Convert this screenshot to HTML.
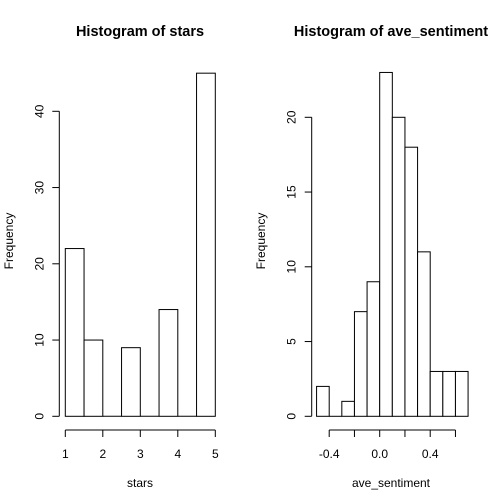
<!DOCTYPE html>
<html><head><meta charset="utf-8"><style>
body{margin:0;background:#fff}
svg{display:block;font-family:"Liberation Sans",Arial,sans-serif}
</style></head><body>
<svg id="c" width="504" height="504" viewBox="0 0 504 504"></svg>
<script>
const starsBreaks=[1,1.5,2,2.5,3,3.5,4,4.5,5];
const starsCounts=[22,10,0,9,0,14,0,45];
const starsXTicks=[1,2,3,4,5];
const starsYTicks=[0,10,20,30,40];
const sentBreaks=[-0.5,-0.4,-0.3,-0.2,-0.1,0,0.1,0.2,0.3,0.4,0.5,0.6,0.7];
const sentCounts=[2,0,1,7,9,23,20,18,11,3,3,3];
const sentXTicks=[-0.4,-0.2,0,0.2,0.4,0.6];
const sentXLabels=["-0.4","","0.0","","0.4",""];
const sentYTicks=[0,5,10,15,20];
const NS="http://www.w3.org/2000/svg";
const svg=document.getElementById('c');
function mk(t,a,p){const e=document.createElementNS(NS,t);for(const k in a)e.setAttribute(k,a[k]);(p||svg).appendChild(e);return e;}
function panel(o){
  const g=mk('g',{});
  
  
  const sx=v=>o.x0+(v-o.xv0)*o.xs, sy=v=>o.y0-v*o.ys;
  for(let i=0;i<o.counts.length;i++){
    const c=o.counts[i];
    let r;
    if(c<=0){
      r=mk('line',{x1:sx(o.breaks[i]),x2:sx(o.breaks[i+1]),y1:sy(0),y2:sy(0),stroke:'#000','stroke-width':1},g);
    } else {
      r=mk('rect',{x:sx(o.breaks[i]),y:sy(c),width:sx(o.breaks[i+1])-sx(o.breaks[i]),height:sy(0)-sy(c),fill:'#fff',stroke:'#000','stroke-width':1},g);
    }
    
    
  }
  const xa=mk('g',{},g);
  
  
  const xt=o.xticks;
  mk('line',{x1:sx(xt[0]),x2:sx(xt[xt.length-1]),y1:430,y2:430,stroke:'#000'},xa);
  xt.forEach((v,i)=>{
    mk('line',{x1:sx(v),x2:sx(v),y1:430,y2:437,stroke:'#000'},xa);
    const lab=o.xlabels?o.xlabels[i]:String(v);
    if(lab){const t=mk('text',{x:sx(v),y:458,'text-anchor':'middle','font-size':12},xa);t.textContent=lab;}
  });
  const ya=mk('g',{},g);
  
  
  const yt=o.yticks;
  mk('line',{x1:o.yax,x2:o.yax,y1:sy(yt[0]),y2:sy(yt[yt.length-1]),stroke:'#000'},ya);
  yt.forEach(v=>{
    mk('line',{x1:o.yax,x2:o.yax-7,y1:sy(v),y2:sy(v),stroke:'#000'},ya);
    const t=mk('text',{x:o.yax-16,y:sy(v),'text-anchor':'middle','font-size':12,transform:`rotate(-90 ${o.yax-16} ${sy(v)})`},ya);t.textContent=v;
  });
  const tt=mk('text',{x:o.cx,y:36,'text-anchor':'middle','font-size':14.5,'font-weight':'bold'},g);tt.textContent=o.title;
  
  
  const xl=mk('text',{x:o.cx,y:487,'text-anchor':'middle','font-size':12},g);xl.textContent=o.xlab;
  
  
  const yl=mk('text',{x:o.ylx,y:241,'text-anchor':'middle','font-size':12,transform:`rotate(-90 ${o.ylx} 241)`},g);yl.textContent='Frequency';
  
  
}
panel({name:'stars-histogram',breaks:starsBreaks,counts:starsCounts,xticks:starsXTicks,yticks:starsYTicks,x0:65.3,xv0:1,xs:37.5,y0:416.3,ys:7.625,yax:59.3,cx:140,ylx:13,title:'Histogram of stars',xlab:'stars'});
panel({name:'sentiment-histogram',breaks:sentBreaks,counts:sentCounts,xticks:sentXTicks,xlabels:sentXLabels,yticks:sentYTicks,x0:379.7,xv0:0,xs:126.25,y0:416.3,ys:14.95,yax:311.7,cx:391,ylx:265,title:'Histogram of ave_sentiment',xlab:'ave_sentiment'});
</script>
</body></html>
